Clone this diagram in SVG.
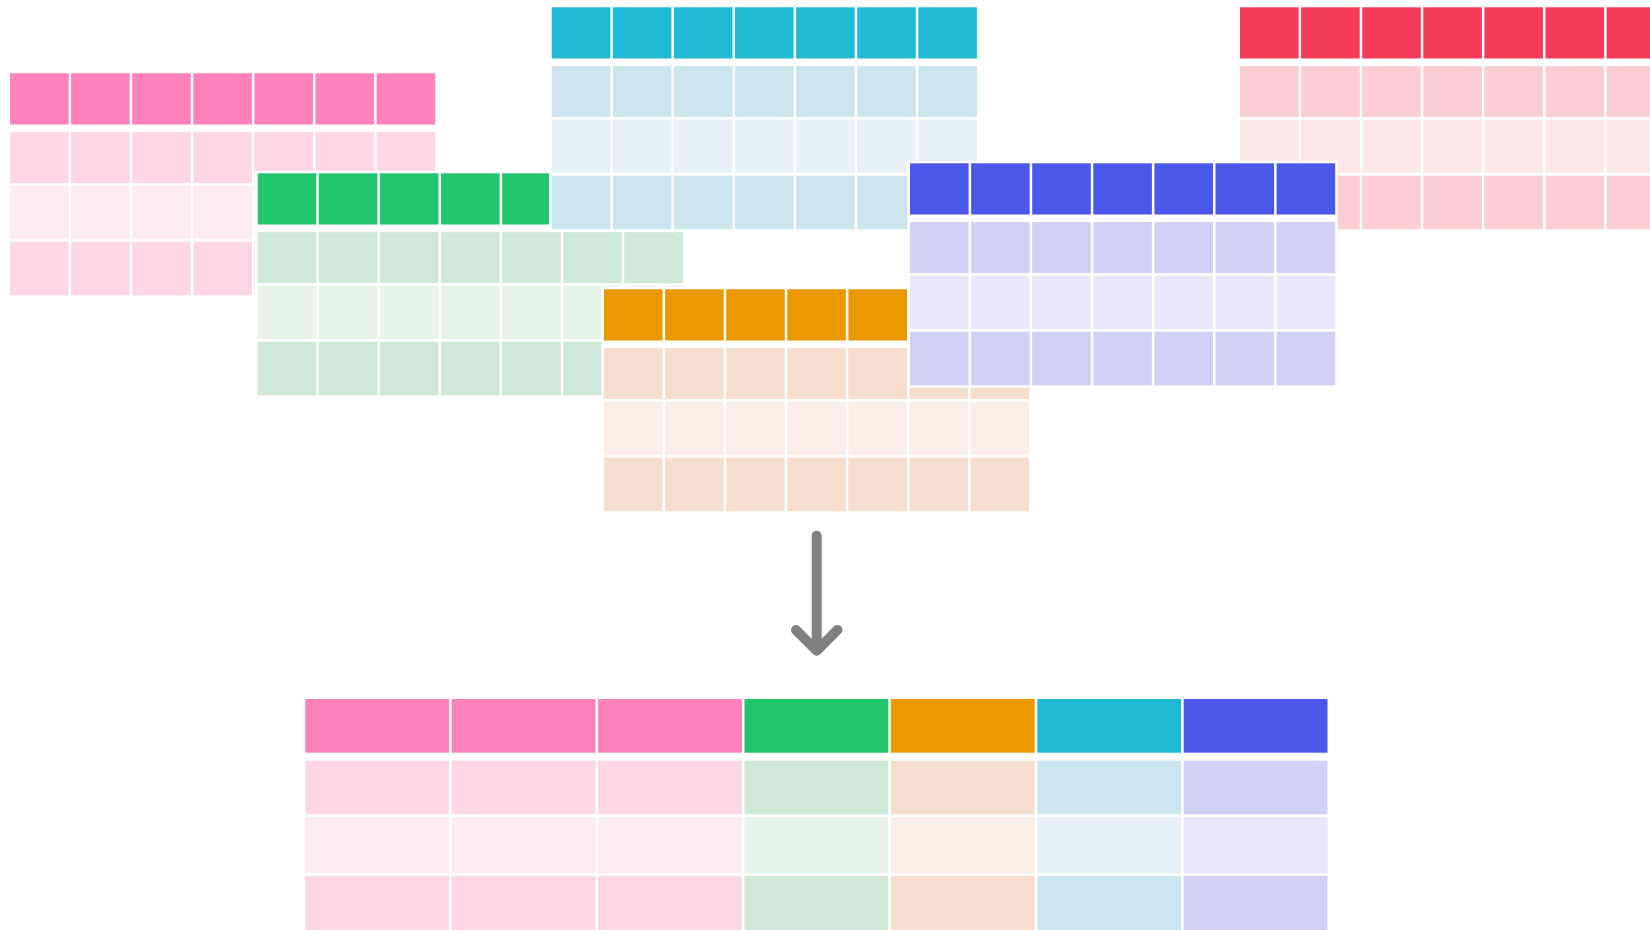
<svg xmlns="http://www.w3.org/2000/svg" xmlns:xlink="http://www.w3.org/1999/xlink" width="1650" height="930" viewBox="0 0 1650 930">
<style>
.bg{fill:#ffffff}
.pk-h{fill:#FF82BC}.pk-1{fill:#FDD7E6}.pk-2{fill:#FDEBF2}
.gr-h{fill:#22C56B}.gr-1{fill:#CEEAD6}.gr-2{fill:#E7F4EA}
.cy-h{fill:#1FB9D4}.cy-1{fill:#CDE5EE}.cy-2{fill:#E6F2F7}
.or-h{fill:#EA9800}.or-1{fill:#F6DDCD}.or-2{fill:#FAEEE6}
.bl-h{fill:#4B57E8}.bl-1{fill:#D0D1F5}.bl-2{fill:#E8E8FA}
.rd-h{fill:#F43B58}.rd-1{fill:#FACED3}.rd-2{fill:#FCE8E9}
.arrow{fill:none;stroke:#808080;stroke-width:10;stroke-linecap:round;stroke-linejoin:round}
</style>
<defs>
<g id="sep">
<rect class="bg" x="58.6" y="-3" width="2.5" height="228"/>
<rect class="bg" x="119.7" y="-3" width="2.5" height="228"/>
<rect class="bg" x="180.8" y="-3" width="2.5" height="228"/>
<rect class="bg" x="241.9" y="-3" width="2.5" height="228"/>
<rect class="bg" x="303" y="-3" width="2.5" height="228"/>
<rect class="bg" x="364.1" y="-3" width="2.5" height="228"/>
</g>
<rect id="back" class="bg" x="-2.7" y="-2.4" width="430.4" height="226.8"/>
<rect id="rh" x="0" y="0" width="425.2" height="51.2"/>
<rect id="r1" x="0" y="58.8" width="425.2" height="51"/>
<rect id="r2" x="0" y="112.3" width="425.2" height="53.5"/>
<rect id="r3" x="0" y="168.4" width="425.2" height="53.6"/>
</defs>

<g id="table-pink" transform="translate(10,73.3)">
<use href="#back"/>
<use href="#rh" class="pk-h"/><use href="#r1" class="pk-1"/><use href="#r2" class="pk-2"/><use href="#r3" class="pk-1"/>
<use href="#sep"/>
</g>

<g id="table-green" transform="translate(257.7,173.3)">
<use href="#back"/>
<use href="#rh" class="gr-h"/><use href="#r1" class="gr-1"/><use href="#r2" class="gr-2"/><use href="#r3" class="gr-1"/>
<use href="#sep"/>
</g>

<g id="table-cyan" transform="translate(551.7,7.3)">
<use href="#back"/>
<use href="#rh" class="cy-h"/><use href="#r1" class="cy-1"/><use href="#r2" class="cy-2"/><use href="#r3" class="cy-1"/>
<use href="#sep"/>
</g>

<g id="table-red" transform="translate(1240,7.3)">
<use href="#back"/>
<use href="#rh" class="rd-h"/><use href="#r1" class="rd-1"/><use href="#r2" class="rd-2"/><use href="#r3" class="rd-1"/>
<use href="#sep"/>
</g>

<g id="table-orange" transform="translate(604,289.3)">
<use href="#back"/>
<use href="#rh" class="or-h"/><use href="#r1" class="or-1"/><use href="#r2" class="or-2"/><use href="#r3" class="or-1"/>
<use href="#sep"/>
</g>

<g id="table-blue" transform="translate(910,163.3)">
<use href="#back"/>
<use href="#rh" class="bl-h"/><use href="#r1" class="bl-1"/><use href="#r2" class="bl-2"/><use href="#r3" class="bl-1"/>
<use href="#sep"/>
</g>

<g id="connectors">
<line class="arrow" x1="816.7" y1="535.7" x2="816.7" y2="650"/>
<polyline class="arrow" points="796,630 816.7,650.7 837.4,630"/>
</g>

<g id="table-merged" transform="translate(305.3,699)">
<g>
<rect class="pk-h" x="0" y="0" width="143.8" height="53.7"/>
<rect class="pk-1" x="0" y="61.7" width="143.8" height="53.6"/>
<rect class="pk-2" x="0" y="118" width="143.8" height="56.3"/>
<rect class="pk-1" x="0" y="177" width="143.8" height="58"/>
</g>
<g transform="translate(146.4,0)">
<rect class="pk-h" x="0" y="0" width="143.8" height="53.7"/>
<rect class="pk-1" x="0" y="61.7" width="143.8" height="53.6"/>
<rect class="pk-2" x="0" y="118" width="143.8" height="56.3"/>
<rect class="pk-1" x="0" y="177" width="143.8" height="58"/>
</g>
<g transform="translate(292.8,0)">
<rect class="pk-h" x="0" y="0" width="143.8" height="53.7"/>
<rect class="pk-1" x="0" y="61.7" width="143.8" height="53.6"/>
<rect class="pk-2" x="0" y="118" width="143.8" height="56.3"/>
<rect class="pk-1" x="0" y="177" width="143.8" height="58"/>
</g>
<g transform="translate(439.2,0)">
<rect class="gr-h" x="0" y="0" width="143.8" height="53.7"/>
<rect class="gr-1" x="0" y="61.7" width="143.8" height="53.6"/>
<rect class="gr-2" x="0" y="118" width="143.8" height="56.3"/>
<rect class="gr-1" x="0" y="177" width="143.8" height="58"/>
</g>
<g transform="translate(585.6,0)">
<rect class="or-h" x="0" y="0" width="143.8" height="53.7"/>
<rect class="or-1" x="0" y="61.7" width="143.8" height="53.6"/>
<rect class="or-2" x="0" y="118" width="143.8" height="56.3"/>
<rect class="or-1" x="0" y="177" width="143.8" height="58"/>
</g>
<g transform="translate(732,0)">
<rect class="cy-h" x="0" y="0" width="143.8" height="53.7"/>
<rect class="cy-1" x="0" y="61.7" width="143.8" height="53.6"/>
<rect class="cy-2" x="0" y="118" width="143.8" height="56.3"/>
<rect class="cy-1" x="0" y="177" width="143.8" height="58"/>
</g>
<g transform="translate(878.4,0)">
<rect class="bl-h" x="0" y="0" width="143.8" height="53.7"/>
<rect class="bl-1" x="0" y="61.7" width="143.8" height="53.6"/>
<rect class="bl-2" x="0" y="118" width="143.8" height="56.3"/>
<rect class="bl-1" x="0" y="177" width="143.8" height="58"/>
</g>
</g>
</svg>
